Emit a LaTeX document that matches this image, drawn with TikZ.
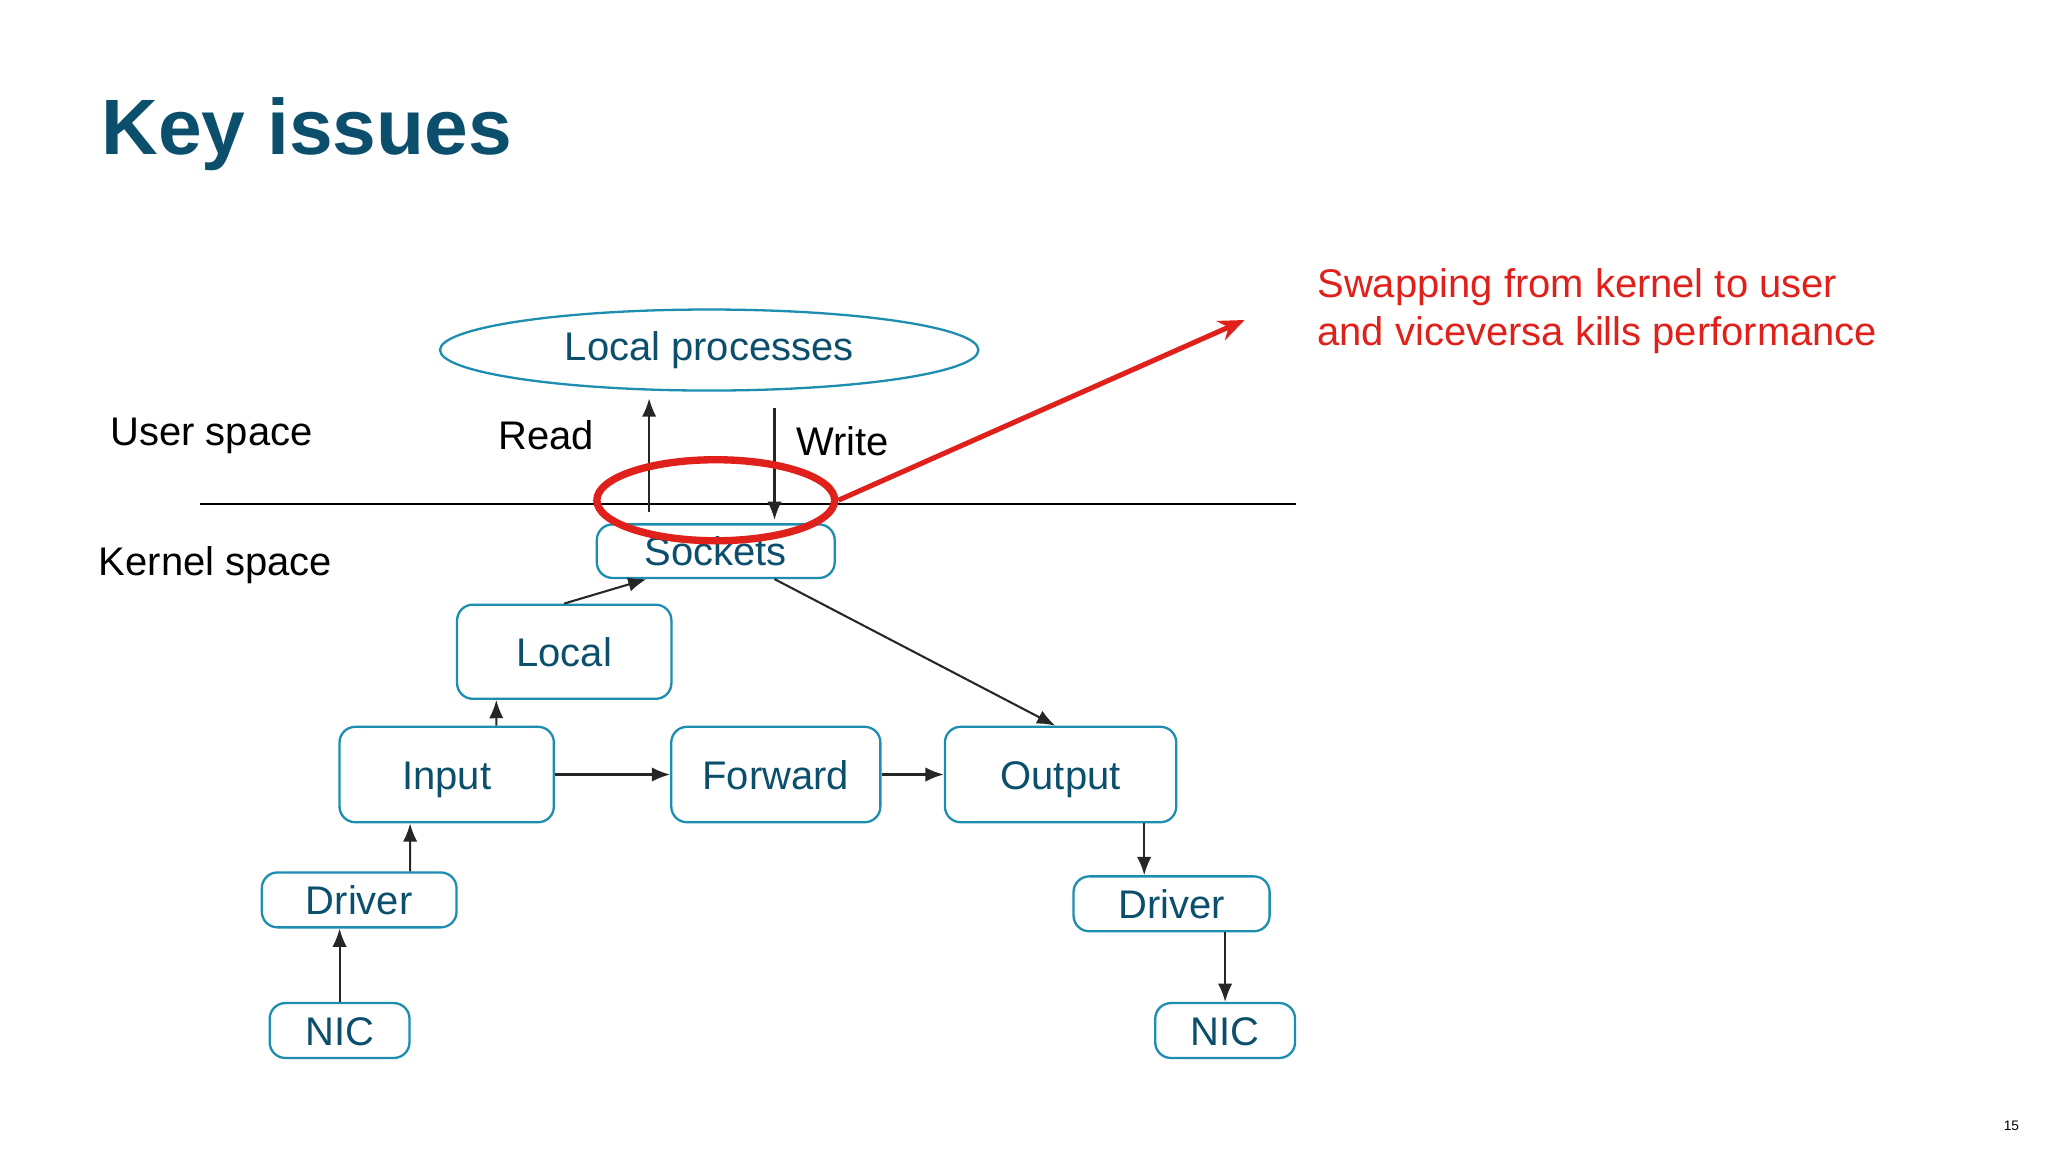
\documentclass[tikz,border=0pt]{standalone}
\usepackage{fontspec}
\setmainfont{Liberation Sans}
\usetikzlibrary{arrows.meta,shapes.geometric}
\definecolor{titleblue}{HTML}{0B4F6C}
\definecolor{boxteal}{HTML}{1D8DB0}
\definecolor{alertred}{HTML}{E0201B}

\begin{document}
\begin{tikzpicture}[x=0.01cm,y=-0.01cm,
    box/.style={draw=boxteal,line width=0.5pt,rounded corners=1.2mm,text=titleblue,font=\fontsize{8.7}{10}\selectfont,inner sep=0pt,text height=1.6ex,text depth=0.4ex},
    arr/.style={-{Latex[length=1.4mm,width=1.1mm]},line width=0.45pt,draw=black!85},
    lbl/.style={font=\fontsize{8.7}{10}\selectfont}]
    \useasboundingbox[fill=white] (0,0) rectangle (1568,882);

    \node[anchor=west,font=\bfseries\fontsize{17.1}{19}\selectfont,text=titleblue,inner sep=0pt] (title) at (77,103) {Key issues};

    \node[draw=boxteal,line width=0.5pt,ellipse,minimum width=4.12cm,minimum height=0.62cm,text=titleblue,font=\fontsize{8.7}{10}\selectfont,inner sep=0pt] (procs) at (543,268) {Local processes};

    \node[lbl] (user) at (162,334) {User space};
    \node[lbl] (kernel) at (165,433) {Kernel space};
    \node[lbl] (read) at (418,333) {Read};
    \node[lbl] (write) at (645,338) {Write};

    \coordinate (lineL) at (153,386);
    \coordinate (lineR) at (992,386);
    \draw[line width=0.45pt] (lineL) -- (lineR);

    % boxes
    \node[box,minimum width=1.82cm,minimum height=0.41cm] (sockets) at (548,422) {Sockets};
    \node[box,minimum width=1.64cm,minimum height=0.72cm] (local) at (432,499) {Local};
    \node[box,minimum width=1.64cm,minimum height=0.73cm] (input) at (342,593) {Input};
    \node[box,minimum width=1.60cm,minimum height=0.73cm] (forward) at (594,593) {Forward};
    \node[box,minimum width=1.77cm,minimum height=0.73cm] (output) at (812,593) {Output};
    \node[box,minimum width=1.49cm,minimum height=0.42cm] (driverL) at (275,689) {Driver};
    \node[box,minimum width=1.07cm,minimum height=0.42cm] (nicL) at (260,789) {NIC};
    \node[box,minimum width=1.50cm,minimum height=0.42cm] (driverR) at (897,692) {Driver};
    \node[box,minimum width=1.07cm,minimum height=0.42cm] (nicR) at (938,789) {NIC};

    % read / write
    \coordinate (readS) at (497,392);
    \coordinate (readE) at (497,305);
    \coordinate (writeS) at (593,312);
    \coordinate (writeE) at (593,398);
    \draw[arr] (readS) -- (readE);
    \draw[arr] (writeS) -- (writeE);

    % connectors
    \draw[arr] (local.north) -- ([xshift=-0.53cm]sockets.south);
    \draw[arr] ([xshift=0.45cm]sockets.south) -- ([xshift=-0.04cm]output.north);
    \draw[arr] ([xshift=0.38cm]input.north) -- ([xshift=-0.52cm]local.south);
    \draw[arr] (input) -- (forward);
    \draw[arr] (forward) -- (output);
    \draw[arr] ([xshift=0.39cm]driverL.north) -- ([xshift=-0.28cm]input.south);
    \draw[arr] (nicL) -- (nicL |- driverL.south);
    \draw[arr] ([xshift=0.64cm]output.south) -- ([xshift=0.64cm]output.south |- driverR.north);
    \draw[arr] (driverR.south -| nicR) -- (nicR);

    % the point of the slide
    \node[draw=alertred,line width=1.6pt,ellipse,minimum width=1.82cm,minimum height=0.62cm] (swap) at (548,383) {};
    \coordinate (swapTip) at (953,245);
    \draw[-{Stealth[length=2mm,width=1.6mm]},alertred,line width=1.1pt] (swap.east) -- (swapTip);
    \node[anchor=north west,align=left,text=alertred,font=\fontsize{8.7}{10.4}\selectfont,inner sep=0pt] (note) at (1008,205) {Swapping from kernel to user\\and viceversa kills performance};

    \node[font=\fontsize{3}{4}\selectfont] (page) at (1540,862) {15};
\end{tikzpicture}
\end{document}
